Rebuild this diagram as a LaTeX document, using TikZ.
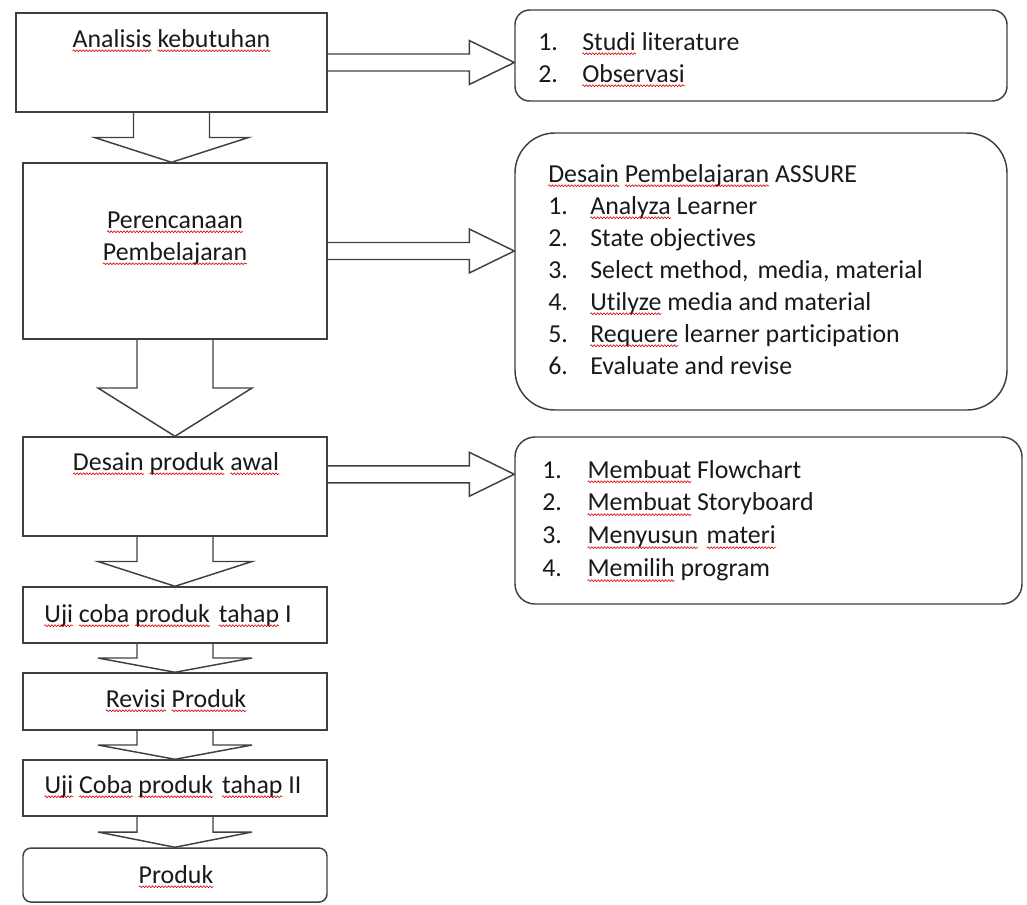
\documentclass[tikz,border=0pt]{standalone}
\usepackage{fontspec}
\setmainfont{Carlito}[Ligatures=NoCommon]
\usetikzlibrary{calc,decorations.pathmorphing}

% red wavy underline as in the spell check
\newsavebox{\splbox}
\newlength{\splw}
\newcommand{\spl}[1]{\sbox{\splbox}{#1}\setlength{\splw}{\wd\splbox}%
  \rlap{\usebox{\splbox}}%
  \tikz[baseline=0pt, x=1pt, y=1pt]{\useasboundingbox (0,0) rectangle (\splw,0);
    \draw[red!85!black, line width=0.45pt, decorate,
      decoration={snake, amplitude=0.7pt, segment length=2.4pt}] (0,-2.8) -- (\splw,-2.8);}}

% block arrow from the bottom of one box to the top of the next
\newcommand{\downblock}[2]{%
  \coordinate (s) at (#1.south);
  \coordinate (m) at ($(#1.south)!0.5!(#2.north)$);
  \draw[blockarrow] ($(s)+(-38,0)$) -- ($(s|-m)+(-38,0)$) -- ($(s|-m)+(-77,0)$)
    -- (s|-#2.north) -- ($(s|-m)+(77,0)$) -- ($(s|-m)+(38,0)$) -- ($(s)+(38,0)$);}

% block arrow from a point to the left side of a box
\newcommand{\rightblock}[2]{%
  \coordinate (s) at #1;
  \coordinate (h) at ($(s-|#2.west)+(-45,0)$);
  \draw[blockarrow] ($(s)+(0,-8.5)$) -- ($(h)+(0,-8.5)$) -- ($(h)+(0,-22)$)
    -- (s-|#2.west) -- ($(h)+(0,22)$) -- ($(h)+(0,8.5)$) -- ($(s)+(0,8.5)$);}

\begin{document}
\begin{tikzpicture}[x=0.75pt, y=-0.75pt,
    box/.style={draw=black!75, line width=1.1pt, inner sep=0pt},
    sz/.style 2 args={minimum width=#1*0.75pt, minimum height=#2*0.75pt},
    lbl/.style={font=\fontsize{19.4}{24}\selectfont, text=black!90, inner sep=0pt},
    blockarrow/.style={draw=black!75, line width=1.1pt, line join=miter}]
  \useasboundingbox (0,0) rectangle (1027,904);

  % Steps on the left
  \node[box, sz={311}{99}] (b1) at (171.5,62.5) {};
  \node[box, sz={304}{176}] (b2) at (175,251) {};
  \node[box, sz={304}{99}] (b3) at (175,486.5) {};
  \node[box, sz={304}{56}] (b4) at (175,615) {};
  \node[box, sz={304}{57}] (b5) at (175,701.5) {};
  \node[box, sz={304}{56}] (b6) at (175,788) {};
  \node[box, sz={304}{54}, rounded corners=6pt] (b7) at (175,875) {};

  % Boxes on the right
  \node[box, sz={492}{91}, rounded corners=11pt] (r1) at (761,55.5) {};
  \node[box, sz={492}{277}, rounded corners=30pt] (r2) at (761,271.5) {};
  \node[box, sz={507}{167}, rounded corners=15pt] (r3) at (768.5,520.5) {};

  % Marking the steps
  \node[lbl, anchor=base] (t1) at (171.5,47) {\spl{Analisis} \spl{kebutuhan}};
  \node[lbl, anchor=base, align=center] (t2) at (175,260) {\spl{Perencanaan}\\\spl{Pembelajaran}};
  \node[lbl, anchor=base] (t3) at (176,470) {\spl{Desain} \spl{produk} \spl{awal}};
  \node[lbl, anchor=base] (t4) at (168,622) {\spl{Uji} \spl{coba} \spl{produk}\hspace{0.12em} \spl{tahap} I};
  \node[lbl, anchor=base] (t5) at (176,707) {\spl{Revisi} \spl{Produk}};
  \node[lbl, anchor=base] (t6) at (173,793) {\spl{Uji} \spl{Coba} \spl{produk}\hspace{0.12em} \spl{tahap} II};
  \node[lbl, anchor=base] (t7) at (176,883) {\spl{Produk}};

  % Marking the lists
  \node[lbl, anchor=base west] (l1) at (538,50) {\begin{tabular}[t]{@{}p{33pt}@{}l@{}}
    1. & \spl{Studi} literature\\
    2. & \spl{Observasi}
  \end{tabular}};
  \node[lbl, anchor=base west] (l2) at (548,182) {\begin{tabular}[t]{@{}p{31.5pt}@{}l@{}}
    \multicolumn{2}{@{}l@{}}{\spl{Desain} \spl{Pembelajaran} ASSURE}\\
    1. & \spl{Analyza} Learner\\
    2. & State objectives\\
    3. & Select method,\hspace{0.12em} media, material\\
    4. & \spl{Utilyze} media and material\\
    5. & \spl{Requere} learner participation\\
    6. & Evaluate and revise
  \end{tabular}};
  \node[lbl, anchor=base west] (l3) at (542,478) {\renewcommand{\arraystretch}{1.03}%
  \begin{tabular}[t]{@{}p{34pt}@{}l@{}}
    1. & \spl{Membuat} Flowchart\\
    2. & \spl{Membuat} Storyboard\\
    3. & \spl{Menyusun}\hspace{0.1em} \spl{materi}\\
    4. & \spl{Memilih} program
  \end{tabular}};

  % Drawing the arrows down
  \downblock{b1}{b2}
  \downblock{b2}{b3}
  \downblock{b3}{b4}
  \downblock{b4}{b5}
  \downblock{b5}{b6}
  \downblock{b6}{b7}

  % Drawing the arrows to the right
  \rightblock{(b1.east)}{r1}
  \rightblock{(b2.east)}{r2}
  \rightblock{($(b3.north east)+(0,38)$)}{r3}
\end{tikzpicture}
\end{document}
